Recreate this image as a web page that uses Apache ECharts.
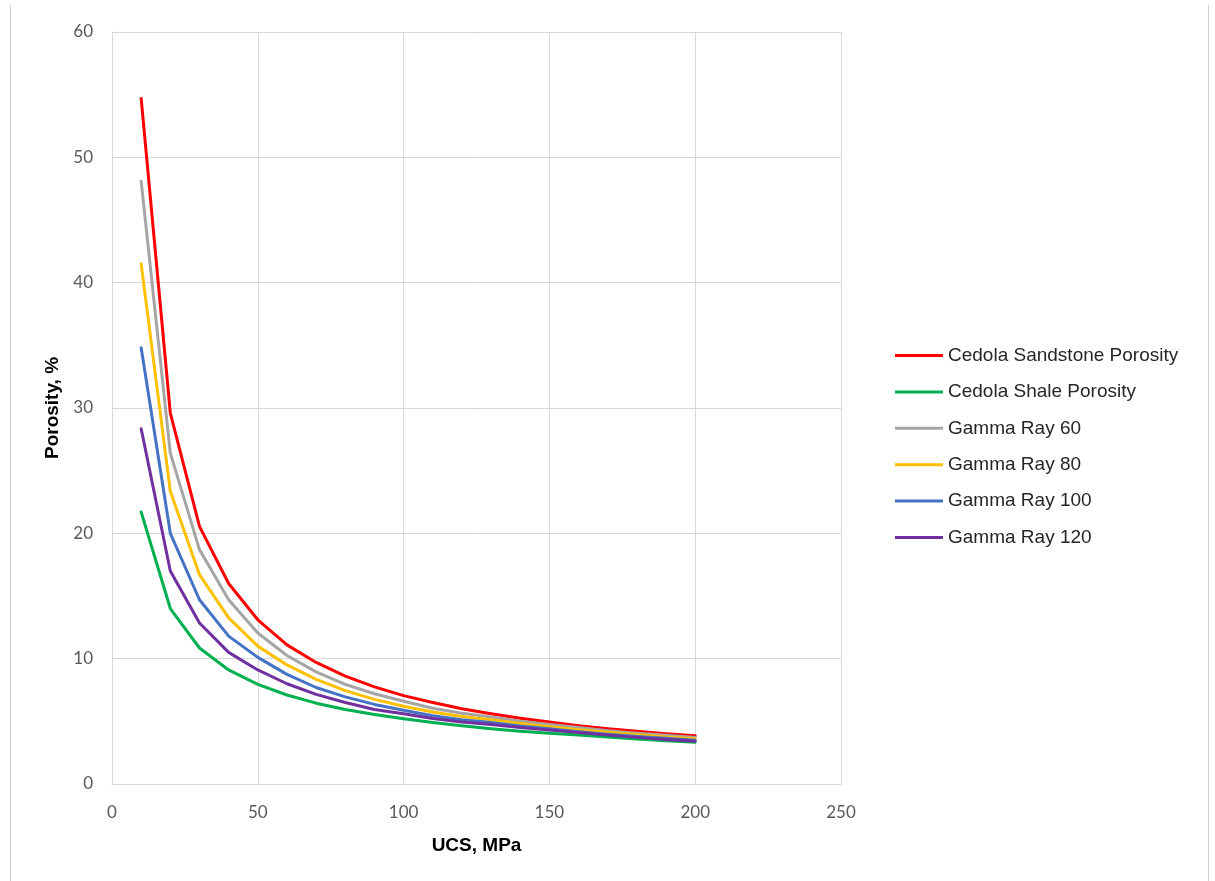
<!DOCTYPE html>
<html>
<head>
<meta charset="utf-8">
<title>Porosity vs UCS</title>
<script src="https://cdn.jsdelivr.net/npm/echarts@6/dist/echarts.min.js"></script>
<style>
  html, body { margin: 0; padding: 0; background: #ffffff; }
  #chart { width: 1215px; height: 881px; }
</style>
</head>
<body>
<div id="chart"></div>
<script>
// UCS values (MPa) shared by every curve
const ucs = [10, 20, 30, 40, 50, 60, 70, 80, 90, 100, 110, 120, 130, 140, 150, 160, 170, 180, 190, 200];

// Porosity (%) for each curve
const sandstonePorosity = [54.7, 29.6, 20.55, 16.0, 13.1, 11.1, 9.7, 8.6, 7.75, 7.05, 6.5, 6.0, 5.6, 5.25, 4.95, 4.65, 4.4, 4.2, 4.0, 3.85];
const shalePorosity     = [21.7, 14.0, 10.85, 9.1, 7.95, 7.1, 6.45, 5.95, 5.55, 5.2, 4.9, 4.65, 4.4, 4.2, 4.05, 3.9, 3.75, 3.6, 3.45, 3.33];
const gammaRay60        = [48.1, 26.4, 18.7, 14.7, 12.05, 10.25, 8.95, 7.95, 7.2, 6.6, 6.05, 5.65, 5.35, 5.0, 4.75, 4.5, 4.25, 4.05, 3.88, 3.72];
const gammaRay80        = [41.5, 23.35, 16.7, 13.25, 11.0, 9.5, 8.35, 7.45, 6.75, 6.2, 5.75, 5.38, 5.12, 4.82, 4.57, 4.33, 4.12, 3.93, 3.76, 3.62];
const gammaRay100       = [34.8, 20.0, 14.7, 11.8, 10.1, 8.75, 7.7, 6.95, 6.35, 5.88, 5.45, 5.12, 4.9, 4.62, 4.4, 4.17, 3.97, 3.8, 3.65, 3.5];
const gammaRay120       = [28.35, 17.0, 12.85, 10.5, 9.1, 8.0, 7.15, 6.5, 5.95, 5.6, 5.22, 4.95, 4.74, 4.5, 4.3, 4.1, 3.9, 3.72, 3.56, 3.42];

// Axis ticks
const xTicks = [0, 50, 100, 150, 200, 250];
const yTicks = [0, 10, 20, 30, 40, 50, 60];

const seriesDefs = [
  { name: 'Cedola Sandstone Porosity', values: sandstonePorosity, color: '#FF0000' },
  { name: 'Cedola Shale Porosity',     values: shalePorosity,     color: '#00B050' },
  { name: 'Gamma Ray 60',              values: gammaRay60,        color: '#A5A5A5' },
  { name: 'Gamma Ray 80',              values: gammaRay80,        color: '#FFC000' },
  { name: 'Gamma Ray 100',             values: gammaRay100,       color: '#4472C4' },
  { name: 'Gamma Ray 120',             values: gammaRay120,       color: '#7030A0' }
];

const chart = echarts.init(document.getElementById('chart'), null, { renderer: 'canvas' });

const tickFont = { color: '#595959', fontSize: 17, fontFamily: 'Lato, "Open Sans", sans-serif' };
const titleFont = { color: '#000000', fontSize: 19, fontWeight: 'bold', fontFamily: '"Liberation Sans", Arial, sans-serif' };

chart.setOption({
  animation: false,
  backgroundColor: '#ffffff',
  grid: { left: 112, top: 32, width: 729, height: 752, containLabel: false },
  legend: {
    orient: 'vertical',
    left: 890,
    top: 341,
    itemWidth: 48,
    itemHeight: 3,
    itemGap: 17.4,
    icon: 'rect',
    textStyle: { color: '#262626', fontSize: 19, fontFamily: '"Liberation Sans", Arial, sans-serif', padding: [0, 0, 0, 0] },
    data: seriesDefs.map(s => s.name)
  },
  xAxis: {
    type: 'value',
    min: xTicks[0],
    max: xTicks[xTicks.length - 1],
    interval: xTicks[1] - xTicks[0],
    name: 'UCS, MPa',
    nameLocation: 'middle',
    nameGap: 52,
    nameTextStyle: titleFont,
    axisLine: { show: true, lineStyle: { color: '#d9d9d9', width: 1 } },
    axisTick: { show: false },
    axisLabel: Object.assign({ margin: 20 }, tickFont),
    splitLine: { show: true, lineStyle: { color: '#d9d9d9', width: 1 } }
  },
  yAxis: {
    type: 'value',
    min: yTicks[0],
    max: yTicks[yTicks.length - 1],
    interval: yTicks[1] - yTicks[0],
    name: 'Porosity, %',
    nameLocation: 'middle',
    nameRotate: 90,
    nameGap: 49,
    nameTextStyle: titleFont,
    axisLine: { show: true, lineStyle: { color: '#d9d9d9', width: 1 } },
    axisTick: { show: false },
    axisLabel: Object.assign({ margin: 19 }, tickFont),
    splitLine: { show: true, lineStyle: { color: '#d9d9d9', width: 1 } }
  },
  series: seriesDefs.map(s => ({
    name: s.name,
    type: 'line',
    data: ucs.map((x, i) => [x, s.values[i]]),
    showSymbol: false,
    symbol: 'none',
    smooth: false,
    lineStyle: { color: s.color, width: 3, cap: 'round', join: 'round' },
    itemStyle: { color: s.color }
  })),
  graphic: [
    { type: 'line', shape: { x1: 10.5, y1: 5, x2: 10.5, y2: 881 }, style: { stroke: '#d0d0d0', lineWidth: 1 } },
    { type: 'line', shape: { x1: 1208.5, y1: 5, x2: 1208.5, y2: 881 }, style: { stroke: '#d0d0d0', lineWidth: 1 } }
  ]
});
</script>
</body>
</html>
